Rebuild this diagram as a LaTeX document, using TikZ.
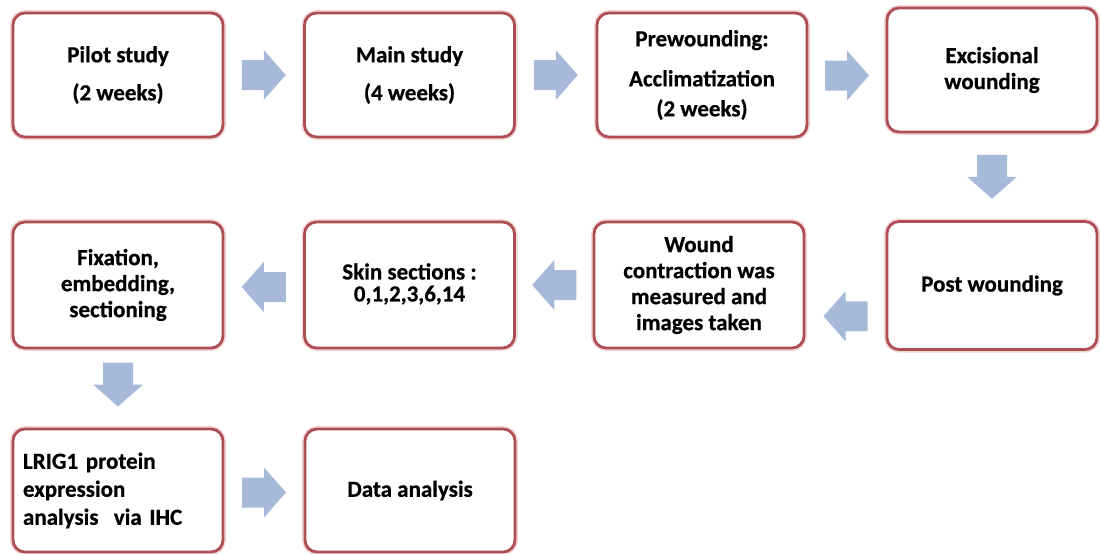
\documentclass[tikz,border=0pt]{standalone}
\usepackage{fontspec}
\setmainfont{Carlito}[BoldFeatures={FakeBold=0.6}]
\usetikzlibrary{calc}
\definecolor{boxline}{RGB}{172,78,84}
\definecolor{boxglow}{RGB}{244,214,214}
\definecolor{arrowfill}{RGB}{167,185,217}
\tikzset{
  box/.style={draw=boxline, line width=2.8pt, rounded corners=12pt, fill=white,
    minimum width=210pt, minimum height=124pt, inner sep=4pt, align=center,
    font=\fontsize{23}{26}\selectfont\bfseries,
    preaction={draw=boxglow, line width=6pt}},
  barrow/.pic={\fill[arrowfill] (-22,-15) -- (0,-15) -- (0,-25) -- (22,0) -- (0,25) -- (0,15) -- (-22,15) -- cycle;}
}
\begin{document}
\begin{tikzpicture}[x=1pt,y=1pt]
\useasboundingbox (0,0) rectangle (1100,-554);
% row 1
\node[box] (pilot) at (118,-75) {Pilot study\\[12pt](2 weeks)};
\node[box] (main) at (409.5,-75) {Main study\\[12pt](4 weeks)};
\node[box] (pre) at (702,-75) {Prewounding:\\[14pt]Acclimatization\\[4pt](2 weeks)};
\node[box] (exc) at (992,-70) {Excisional\\wounding};
% row 2
\node[box, minimum height=126pt] (fix) at (118,-285) {Fixation,\\embedding,\\sectioning};
\node[box, minimum height=126pt] (skin) at (409.5,-285) {\\[-12pt]Skin sections :\\[-4pt]0,1,2,3,6,14};
\node[box, minimum height=126pt] (wound) at (699,-285) {Wound\\contraction was\\measured and\\images taken};
\node[box, minimum height=128pt] (post) at (992,-285.5) {Post wounding};
% row 3
\node[box, minimum height=123pt, align=left, text width=190pt] (lrig) at (118,-490.5) {LRIG1 protein\\[2pt]expression\\[2pt]analysis~ via IHC};
\node[box, minimum height=123pt] (data) at (410,-490.5) {Data analysis};
% block arrows
\pic at ($(pilot.east)!0.5!(main.west)$) {barrow};
\pic at ($(main.east)!0.5!(pre.west)$) {barrow};
\pic at ($(pre.east)!0.5!(exc.west)+(0,-3)$) {barrow};
\pic[rotate=-90] at ($(exc.south)!0.5!(post.north)$) {barrow};
\pic[rotate=180] at ($(post.west)!0.5!(wound.east)+(0,-31)$) {barrow};
\pic[rotate=180] at ($(wound.west)!0.5!(skin.east)$) {barrow};
\pic[rotate=180] at ($(skin.west)!0.5!(fix.east)+(0,-2)$) {barrow};
\pic[rotate=-90] at ($(fix.south)!0.5!(lrig.north)+(0,4)$) {barrow};
\pic at ($(lrig.east)!0.5!(data.west)+(0,-2)$) {barrow};
\end{tikzpicture}
\end{document}
